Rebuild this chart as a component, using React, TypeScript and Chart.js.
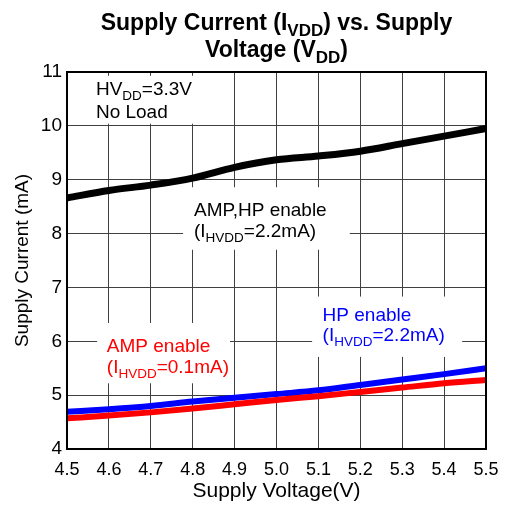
import React, { useEffect, useRef } from 'react';
import { Chart, registerables } from 'chart.js';

Chart.register(...registerables);

const voltages = ['4.5', '4.6', '4.7', '4.8', '4.9', '5.0', '5.1', '5.2', '5.3', '5.4', '5.5'];
const ampHpEnable = [8.66, 8.8, 8.9, 9.03, 9.23, 9.37, 9.44, 9.53, 9.67, 9.81, 9.95];
const hpEnable = [4.69, 4.74, 4.8, 4.88, 4.95, 5.02, 5.09, 5.19, 5.29, 5.39, 5.5];
const ampEnable = [4.57, 4.62, 4.68, 4.75, 4.83, 4.91, 4.98, 5.06, 5.14, 5.22, 5.28];
const yMin = 4;
const yMax = 11;

const FONT = "'Liberation Sans', Arial, Helvetica, sans-serif";

type Seg = { t: string; sub?: boolean };

function drawRich(
  ctx: CanvasRenderingContext2D,
  segs: Seg[],
  x: number,
  y: number,
  size: number,
  subSize: number,
  subDrop: number,
  bold: boolean,
  color: string,
  align: 'left' | 'center'
) {
  const w = bold ? 'bold ' : '';
  let total = 0;
  const widths = segs.map((s) => {
    ctx.font = `${w}${s.sub ? subSize : size}px ${FONT}`;
    const m = ctx.measureText(s.t).width;
    total += m;
    return m;
  });
  let cx = align === 'center' ? x - total / 2 : x;
  ctx.fillStyle = color;
  ctx.textBaseline = 'alphabetic';
  ctx.textAlign = 'left';
  segs.forEach((s, i) => {
    ctx.font = `${w}${s.sub ? subSize : size}px ${FONT}`;
    ctx.fillText(s.t, cx, s.sub ? y + subDrop : y);
    cx += widths[i];
  });
}

const annotPlugin = {
  id: 'annotPlugin',
  beforeDatasetsDraw(chart: any) {
    const { ctx, chartArea: a, scales } = chart;
    const yS = scales.y;
    const px = (v: number) => a.left + ((v - 4.5) / 1.0) * (a.right - a.left);
    const py = (v: number) => yS.getPixelForValue(v);
    ctx.save();
    const boxes = [
      [4.505, 10.93, 4.877, 10.04],
      [4.777, 8.86, 5.175, 7.7],
      [5.085, 6.83, 5.443, 5.71],
      [4.572, 6.34, 4.889, 5.22],
    ];
    ctx.fillStyle = '#ffffff';
    boxes.forEach(([x0, y0, x1, y1]) => {
      ctx.fillRect(px(x0), py(y0), px(x1) - px(x0), py(y1) - py(y0));
    });
    const S = 19;
    const SS = 13.5;
    const D = 5;
    drawRich(ctx, [{ t: 'HV' }, { t: 'DD', sub: true }, { t: '=3.3V' }], px(4.569), py(10.57), S, SS, D, false, '#000', 'left');
    drawRich(ctx, [{ t: 'No Load' }], px(4.569), py(10.15), S, SS, D, false, '#000', 'left');
    drawRich(ctx, [{ t: 'AMP,HP enable' }], px(4.803), py(8.33), S, SS, D, false, '#000', 'left');
    drawRich(ctx, [{ t: '(I' }, { t: 'HVDD', sub: true }, { t: '=2.2mA)' }], px(4.803), py(7.94), S, SS, D, false, '#000', 'left');
    drawRich(ctx, [{ t: 'HP enable' }], px(5.11), py(6.37), S, SS, D, false, '#0000ff', 'left');
    drawRich(ctx, [{ t: '(I' }, { t: 'HVDD', sub: true }, { t: '=2.2mA)' }], px(5.11), py(6.0), S, SS, D, false, '#0000ff', 'left');
    drawRich(ctx, [{ t: 'AMP enable' }], px(4.595), py(5.81), S, SS, D, false, '#ff0000', 'left');
    drawRich(ctx, [{ t: '(I' }, { t: 'HVDD', sub: true }, { t: '=0.1mA)' }], px(4.595), py(5.41), S, SS, D, false, '#ff0000', 'left');
    ctx.restore();
  },
  afterDraw(chart: any) {
    const { ctx, chartArea: a } = chart;
    ctx.save();
    ctx.strokeStyle = '#000';
    ctx.lineWidth = 2;
    ctx.strokeRect(a.left, a.top, a.right - a.left, a.bottom - a.top);
    const cx = (a.left + a.right) / 2;
    drawRich(ctx, [{ t: 'Supply Current (I' }, { t: 'VDD', sub: true }, { t: ') vs. Supply' }], cx, 30, 23, 17, 6, true, '#000', 'center');
    drawRich(ctx, [{ t: 'Voltage (V' }, { t: 'DD', sub: true }, { t: ')' }], cx, 57, 23, 17, 6, true, '#000', 'center');
    ctx.restore();
  },
};

export default function App() {
  const ref = useRef<HTMLCanvasElement>(null);
  useEffect(() => {
    if (!ref.current) return;
    const chart = new Chart(ref.current, {
      type: 'line',
      data: {
        labels: voltages,
        datasets: [
          {
            label: 'AMP,HP enable',
            data: ampHpEnable,
            borderColor: '#000000',
            backgroundColor: '#000000',
            borderWidth: 7,
            pointRadius: 0,
            cubicInterpolationMode: 'monotone',
          },
          {
            label: 'AMP enable',
            data: ampEnable,
            borderColor: '#ff0000',
            backgroundColor: '#ff0000',
            borderWidth: 6,
            pointRadius: 0,
            cubicInterpolationMode: 'monotone',
          },
          {
            label: 'HP enable',
            data: hpEnable,
            borderColor: '#0000ff',
            backgroundColor: '#0000ff',
            borderWidth: 6,
            pointRadius: 0,
            cubicInterpolationMode: 'monotone',
          },
        ],
      },
      options: {
        responsive: false,
        animation: false,
        devicePixelRatio: 1,
        layout: { padding: { top: 72, right: 20, left: 0, bottom: 0 } },
        plugins: { legend: { display: false }, tooltip: { enabled: false }, title: { display: false } },
        scales: {
          x: {
            type: 'category',
            offset: false,
            grid: { color: '#404040', lineWidth: 1, drawTicks: false, offset: false },
            border: { color: '#000', width: 2 },
            ticks: { color: '#000', font: { family: FONT, size: 18 }, padding: 10, maxRotation: 0, autoSkip: false },
            title: {
              display: true,
              text: 'Supply Voltage(V)',
              color: '#000',
              font: { family: FONT, size: 21 },
              padding: { top: 0, bottom: 2 },
            },
            afterFit: (s: any) => {
              s.height = 57;
              s.paddingRight = 0;
              s.paddingLeft = 0;
            },
          },
          y: {
            type: 'linear',
            min: yMin,
            max: yMax,
            grid: { color: '#404040', lineWidth: 1, drawTicks: false },
            border: { color: '#000', width: 2 },
            ticks: { stepSize: 1, color: '#000', font: { family: FONT, size: 19 }, padding: 5 },
            title: {
              display: true,
              text: 'Supply Current (mA)',
              color: '#000',
              font: { family: FONT, size: 19 },
              padding: { top: 11, bottom: 0 },
            },
            afterFit: (s: any) => {
              s.width = 67;
              s.paddingTop = 0;
              s.paddingBottom = 0;
            },
          },
        },
      },
      plugins: [annotPlugin],
    } as any);
    return () => chart.destroy();
  }, []);
  return (
    <div style={{ position: 'absolute', left: 0, top: 0, width: 506, height: 506, background: '#fff' }}>
      <canvas ref={ref} width={506} height={506} />
    </div>
  );
}
